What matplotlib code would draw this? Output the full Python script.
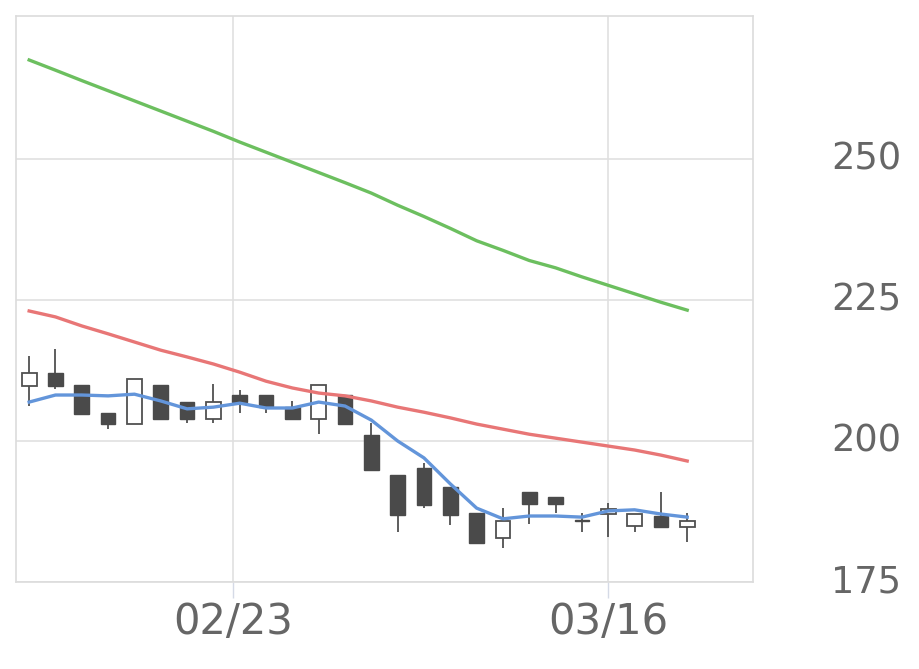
import matplotlib
matplotlib.use("Agg")
from matplotlib import pyplot as plt
import numpy as np

# daily candles (02/10 .. 03/19)
opens = [209.8, 212.0, 209.9, 204.9, 203.1, 209.9, 207.0, 203.85, 208.15, 208.15,
         206.1, 203.85, 208.15, 201.05, 193.95, 195.15, 191.9, 187.2, 182.75, 191.0,
         190.1, 186.0, 187.0, 184.9, 186.75, 184.8]
highs = [215.1, 216.3, 209.9, 204.9, 211.0, 209.9, 207.0, 210.05, 209.0, 208.15,
         207.1, 209.9, 208.15, 203.15, 193.95, 196.05, 191.9, 187.2, 188.05, 191.0,
         190.1, 187.2, 189.0, 187.0, 191.0, 187.2]
lows = [206.2, 209.2, 204.8, 202.1, 203.1, 203.85, 203.2, 203.2, 205.0, 205.0,
        203.85, 201.2, 203.0, 194.9, 183.9, 188.05, 185.1, 182.0, 181.0, 185.2,
        187.2, 183.9, 183.0, 183.9, 184.8, 182.15]
closes = [212.0, 209.75, 204.8, 203.0, 211.0, 203.85, 203.85, 206.9, 206.9, 206.0,
          203.85, 209.9, 203.0, 194.9, 186.9, 188.65, 186.9, 182.0, 185.9, 188.8,
          188.8, 185.8, 187.9, 187.0, 184.8, 185.9]

# moving averages
ma_short = [206.9, 208.15, 208.15, 208.0, 208.3, 207.1, 205.7, 206.0, 206.7, 205.85,
            205.85, 206.9, 206.2, 203.7, 200.0, 197.0, 192.4, 188.1, 186.2, 186.7,
            186.7, 186.5, 187.6, 187.8, 187.05, 186.5]
ma_mid = [223.05, 222.0, 220.4, 219.0, 217.55, 216.1, 214.9, 213.65, 212.2, 210.6,
          209.4, 208.5, 208.0, 207.1, 206.0, 205.1, 204.1, 203.0, 202.1, 201.2,
          200.5, 199.8, 199.1, 198.4, 197.5, 196.45]
ma_long = [267.55, 265.74, 263.9, 262.1, 260.3, 258.5, 256.7, 254.9, 253.0, 251.2,
           249.4, 247.6, 245.8, 243.95, 241.8, 239.8, 237.7, 235.5, 233.8, 232.0,
           230.7, 229.1, 227.6, 226.1, 224.6, 223.2]

x_tick_pos = [7.75, 22]
x_tick_labels = ["02/23", "03/16"]
y_ticks = [175, 200, 225, 250]

fig = plt.figure(figsize=(9.2, 6.69), dpi=100)
ax = fig.add_axes([16 / 920, 1 - 582 / 669, 737 / 920, 566 / 669])

x = np.arange(len(opens))
o = np.array(opens)
c = np.array(closes)
up = c >= o
body_lo = np.minimum(o, c)
body_h = np.maximum(np.abs(c - o), 0.25)

ax.vlines(x, lows, highs, color="#505050", linewidth=1.3, zorder=2)
ax.bar(x[up], body_h[up], bottom=body_lo[up], width=0.56, color="white",
       edgecolor="#505050", linewidth=1.3, zorder=3)
ax.bar(x[~up], body_h[~up], bottom=body_lo[~up], width=0.56, color="#4a4a4a",
       edgecolor="#4a4a4a", linewidth=1.0, zorder=3)

ax.plot(x, ma_long, color="#6cbf5f", linewidth=2.4, zorder=4)
ax.plot(x, ma_mid, color="#e87676", linewidth=2.4, zorder=4)
ax.plot(x, ma_short, color="#6395da", linewidth=2.4, zorder=4)

ax.set_xlim(-0.5, 27.5)
ax.set_ylim(175, 275.35)

ax.set_xticks(x_tick_pos)
ax.set_xticklabels(x_tick_labels, fontsize=30, color="#666666")
ax.tick_params(axis="x", length=11.5, width=1, color="#d5dae6", pad=2)

ax.yaxis.tick_right()
ax.set_yticks(y_ticks)
ax.set_yticklabels([str(v) for v in y_ticks], fontsize=26.5, color="#666666")
ax.tick_params(axis="y", length=0, pad=56)
for lbl in ax.get_yticklabels():
    lbl.set_va("center")

ax.grid(True, color="#e0e0e0", linewidth=1.2, zorder=0)
ax.set_axisbelow(True)
for s in ax.spines.values():
    s.set_color("#dcdcdc")
    s.set_linewidth(1.2)

fig.savefig("out.png", format="png")
